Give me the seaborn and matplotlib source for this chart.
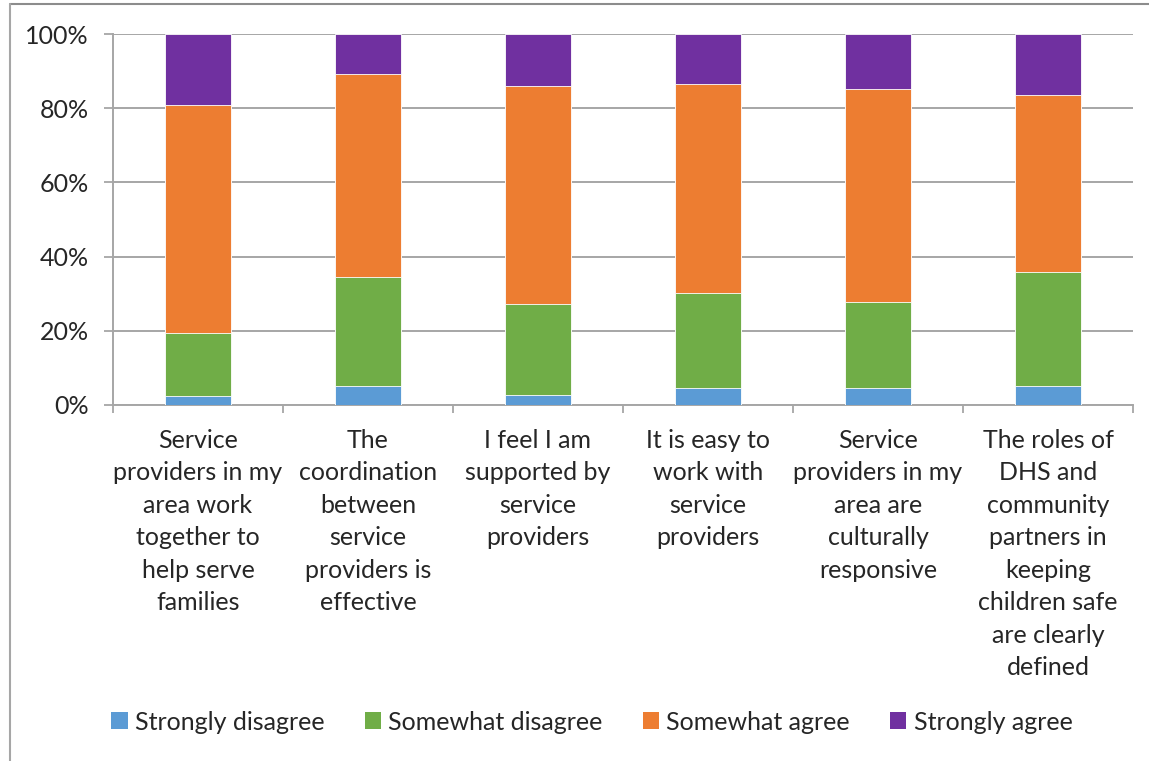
import matplotlib
matplotlib.use("Agg")
import matplotlib.pyplot as plt
import seaborn as sns
import pandas as pd
import numpy as np
from matplotlib.patches import Patch
from matplotlib.lines import Line2D
from matplotlib.ticker import FixedLocator

categories = [
    "Service\nproviders in my\narea work\ntogether to\nhelp serve\nfamilies",
    "The\ncoordination\nbetween\nservice\nproviders is\neffective",
    "I feel I am\nsupported by\nservice\nproviders",
    "It is easy to\nwork with\nservice\nproviders",
    "Service\nproviders in my\narea are\nculturally\nresponsive",
    "The roles of\nDHS and\ncommunity\npartners in\nkeeping\nchildren safe\nare clearly\ndefined",
]
series_names = ["Strongly disagree", "Somewhat disagree", "Somewhat agree", "Strongly agree"]
strongly_disagree = [2.4, 5.1, 2.7, 4.5, 4.6, 5.2]
somewhat_disagree = [17.0, 29.4, 24.5, 25.6, 23.2, 30.6]
somewhat_agree = [61.5, 54.7, 58.8, 56.4, 57.4, 47.8]
strongly_agree = [19.1, 10.8, 14.0, 13.5, 14.8, 16.4]
colors = ["#5B9BD5", "#70AD47", "#ED7D31", "#7030A0"]

sns.set_theme(style="white")
plt.rcParams["font.family"] = ["Lato", "DejaVu Sans"]

fig = plt.figure(figsize=(11.49, 7.61), dpi=100)
ax = fig.add_axes([113 / 1149, 1 - 405 / 761, (1133 - 113) / 1149, (405 - 34) / 761])

vals = np.array([strongly_disagree, somewhat_disagree, somewhat_agree, strongly_agree])
cum = np.cumsum(vals, axis=0)
df = pd.DataFrame({"cat": categories})
# draw from the top layer down so lower layers overlay
for i in range(3, -1, -1):
    df["v"] = cum[i] / 100.0
    sns.barplot(data=df, x="cat", y="v", color=colors[i], width=0.39, ax=ax,
                saturation=1, edgecolor="white", linewidth=0.6, zorder=3)

ax.set_ylim(0, 1)
ax.set_xlim(-0.5, len(categories) - 0.5)
ax.set_yticks(np.arange(0, 1.01, 0.2))
ax.set_yticklabels([f"{int(round(t*100))}%" for t in np.arange(0, 1.01, 0.2)], fontsize=18)
ax.yaxis.grid(True, color="#a6a6a6", linewidth=1.4, zorder=0)
ax.set_axisbelow(True)
ax.set_xlabel("")
ax.set_ylabel("")
ax.set_xticks(range(len(categories)))
ax.set_xticklabels(categories, fontsize=18, linespacing=1.5, va="top")
ax.xaxis.set_minor_locator(FixedLocator(np.arange(-0.5, len(categories), 1.0)))
ax.tick_params(axis="x", which="major", length=0, pad=17)
ax.tick_params(axis="x", which="minor", length=6, width=1.3, color="#a6a6a6", bottom=True)
ax.tick_params(axis="y", which="major", length=6.5, width=1.3, color="#a6a6a6", left=True, pad=11)
for s in ["top", "right"]:
    ax.spines[s].set_visible(False)
for s in ["left", "bottom"]:
    ax.spines[s].set_color("#a6a6a6")
    ax.spines[s].set_linewidth(1.4)

handles = [Patch(facecolor=c, edgecolor="none", label=n) for c, n in zip(colors, series_names)]
fig.legend(handles=handles, loc="center", bbox_to_anchor=(592 / 1149, 1 - 722 / 761),
           ncol=4, frameon=False, fontsize=18, handlelength=0.65, handleheight=0.65,
           handletextpad=0.3, columnspacing=1.6)

# outer chart frame (partially visible)
fig.add_artist(Line2D([10 / 1149, 1.0], [1 - 4 / 761, 1 - 4 / 761], color="#8c8c8c", linewidth=1.5))
fig.add_artist(Line2D([10 / 1149, 10 / 1149], [0, 1 - 4 / 761], color="#a6a6a6", linewidth=1.5))

fig.savefig("out.png", dpi=100, facecolor="white")
